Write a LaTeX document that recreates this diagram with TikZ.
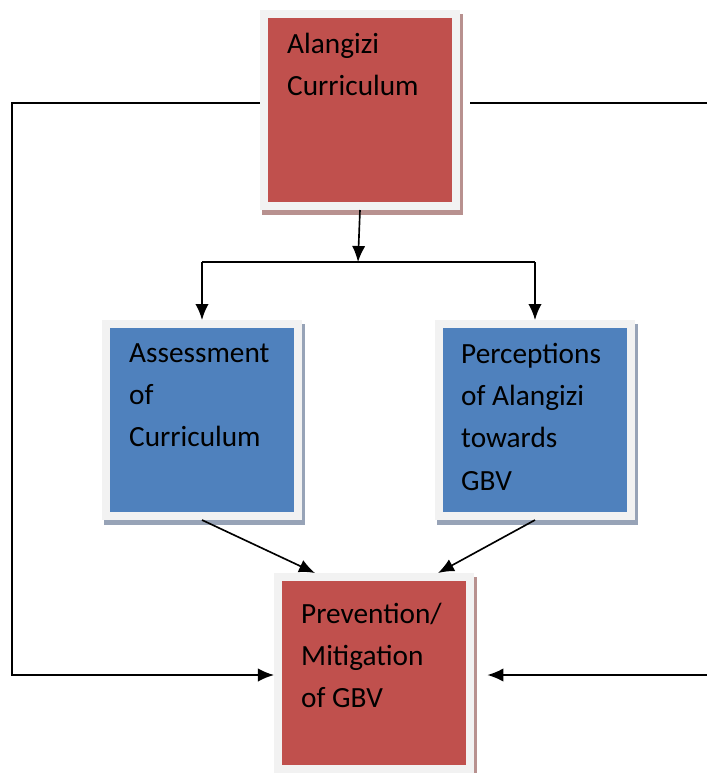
\documentclass[tikz,border=0pt]{standalone}
\usepackage{fontspec}
\setmainfont{Carlito}
\usetikzlibrary{arrows.meta,shadows,calc}

\definecolor{boxred}{HTML}{C0504D}
\definecolor{boxblue}{HTML}{4F81BD}
\definecolor{frame}{HTML}{F2F2F2}
\definecolor{redshade}{HTML}{B8918F}
\definecolor{blueshade}{HTML}{97A3B7}

\tikzset{
  boxbase/.style={rectangle, draw=frame, line width=0.24cm,
    minimum width=5.76cm, minimum height=5.76cm, inner sep=0pt},
  redbox/.style={boxbase, fill=boxred,
    drop shadow={shadow xshift=0.075cm, shadow yshift=-0.12cm, shadow scale=1.047, fill=redshade, opacity=1}},
  bluebox/.style={boxbase, fill=boxblue,
    drop shadow={shadow xshift=0.075cm, shadow yshift=-0.12cm, shadow scale=1.047, fill=blueshade, opacity=1}},
  boxtext/.style={anchor=north west, inner sep=0pt, align=left,
    font=\fontsize{25pt}{36pt}\selectfont},
  link/.style={line width=1.4pt},
  arrow/.style={link, -{Latex[length=0.48cm,width=0.4cm]}}
}

\begin{document}
\begin{tikzpicture}[x=0.03cm,y=-0.03cm]
  \useasboundingbox (0,0) rectangle (707,773);

  % boxes
  \node[redbox] (curr) at (360,110) {};
  \node[bluebox] (assess) at (202,420) {};
  \node[bluebox] (percep) at (535,420) {};
  \node[redbox] (prev) at (374,673) {};

  % texts
  \node[boxtext] (currtext) at ($(curr.north west)+(27,23)$) {Alangizi\\Curriculum};
  \node[boxtext] (assesstext) at ($(assess.north west)+(27,23)$) {Assessment\\of\\Curriculum};
  \node[boxtext] (perceptext) at ($(percep.north west)+(26,23)$) {Perceptions\\of Alangizi\\towards\\GBV};
  \node[boxtext] (prevtext) at ($(prev.north west)+(27,30)$) {Prevention/\\Mitigation\\of GBV};

  % connectors
  \coordinate (split) at (358,262);
  \coordinate (leftcorner) at (12,103);
  \coordinate (rightend) at (707,103);
  \coordinate (rightlow) at (707,675);

  \draw[arrow] (curr.south) -- (split);
  \draw[link] (split -| assess.north) -- (split -| percep.north);
  \draw[arrow] (split -| assess.north) -- (assess.north);
  \draw[arrow] (split -| percep.north) -- (percep.north);

  \draw[arrow] (assess.south) -- ($(prev.north)+(-59,0)$);
  \draw[arrow] (percep.south) -- ($(prev.north)+(64,0)$);

  \draw[arrow] (curr.west |- leftcorner) -- (leftcorner) |- (prev.west |- rightlow);
  \draw[link, shorten <=0.3cm] (curr.east |- rightend) -- (rightend);
  \draw[arrow, shorten >=0.4cm] (rightlow) -- (prev.east |- rightlow);
\end{tikzpicture}
\end{document}
